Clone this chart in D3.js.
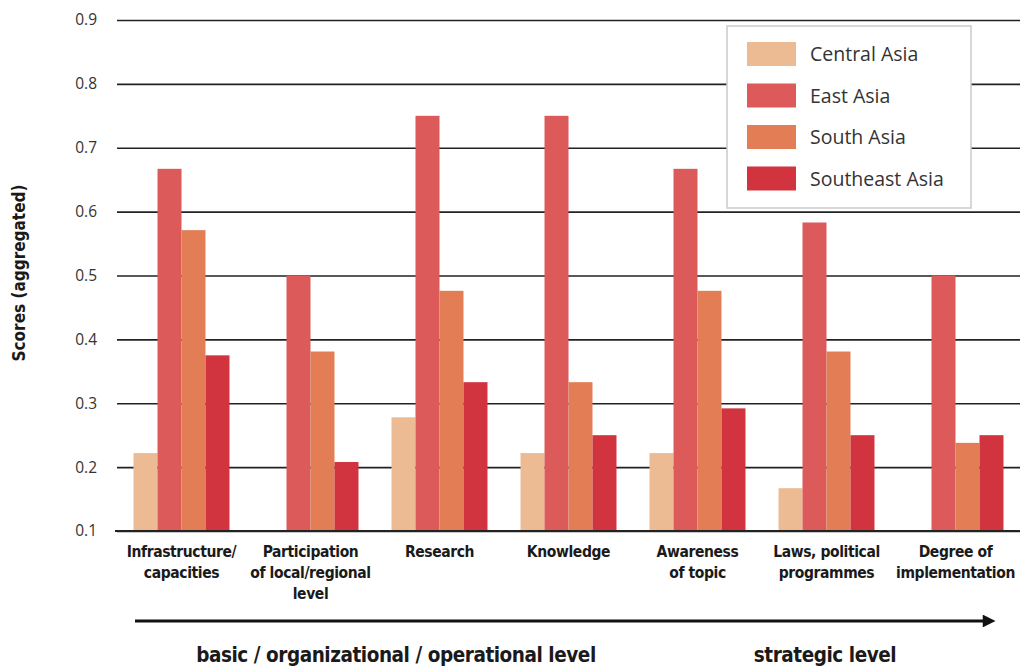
<!DOCTYPE html>
<html>
<head>
<meta charset="utf-8">
<script src="https://cdn.jsdelivr.net/npm/d3@7"></script>
<style>
  html, body { margin: 0; padding: 0; background: #fff; }
  svg { display: block; }
</style>
</head>
<body>
<svg id="chart" width="1025" height="669"></svg>
<script>
// Categories along the x axis (multi-line labels)
const categories = [
  "Infrastructure/|capacities",
  "Participation|of local/regional|level",
  "Research",
  "Knowledge",
  "Awareness|of topic",
  "Laws, political|programmes",
  "Degree of|implementation"
];
const regions = ["Central Asia", "East Asia", "South Asia", "Southeast Asia"];
const centralAsia   = [0.222, null, 0.278, 0.222, 0.222, 0.167, null];
const eastAsia      = [0.667, 0.500, 0.750, 0.750, 0.667, 0.583, 0.500];
const southAsia     = [0.571, 0.381, 0.476, 0.333, 0.476, 0.381, 0.238];
const southeastAsia = [0.375, 0.208, 0.333, 0.250, 0.292, 0.250, 0.250];
const yTicks = [0.1, 0.2, 0.3, 0.4, 0.5, 0.6, 0.7, 0.8, 0.9];
const colors = ["#edbb93", "#dc5a5a", "#e27d55", "#d1343f"];

const seriesValues = [centralAsia, eastAsia, southAsia, southeastAsia];

const svg = d3.select("#chart");
const plotLeft = 117, plotRight = 1020, plotTop = 20, plotBottom = 531;

const x = d3.scaleBand()
  .domain(categories)
  .range([plotLeft, plotRight])
  .paddingInner(0.256)
  .paddingOuter(0.128);

const xInner = d3.scaleBand()
  .domain(regions)
  .range([0, x.bandwidth()]);

const y = d3.scaleLinear()
  .domain([0.1, 0.9])
  .range([plotBottom, plotTop]);

// Horizontal gridlines with tick labels
const yAxis = d3.axisLeft(y)
  .tickValues(yTicks)
  .tickFormat(d3.format(".1f"))
  .tickSize(-(plotRight - plotLeft))
  .tickPadding(20);

const gy = svg.append("g")
  .attr("transform", `translate(${plotLeft},0)`)
  .call(yAxis);
gy.select(".domain").remove();
gy.selectAll(".tick line")
  .attr("stroke", "#222")
  .attr("stroke-width", 1.6);
gy.selectAll(".tick text")
  .attr("fill", "#333")
  .attr("font-family", "'Open Sans', 'DejaVu Sans', sans-serif")
  .attr("font-size", 15.5)
  .attr("font-weight", 400);

// Bars
const groups = svg.append("g")
  .selectAll("g")
  .data(categories)
  .join("g")
  .attr("transform", d => `translate(${x(d)},0)`);

groups.selectAll("rect")
  .data((d, i) => regions.map((r, k) => ({ region: r, value: seriesValues[k][i], k })))
  .join("rect")
  .filter(d => d.value !== null)
  .attr("x", d => xInner(d.region))
  .attr("width", xInner.bandwidth())
  .attr("y", d => y(d.value))
  .attr("height", d => y(0.1) - y(d.value))
  .attr("fill", d => colors[d.k]);

// Baseline drawn over the bars
svg.append("line")
  .attr("x1", plotLeft - 2).attr("x2", plotRight)
  .attr("y1", y(0.1)).attr("y2", y(0.1))
  .attr("stroke", "#222").attr("stroke-width", 1.8);

// Category labels
const labelFont = "'Liberation Sans Narrow', 'DejaVu Sans Condensed', 'Arial Narrow', sans-serif";
const cats = svg.append("g")
  .selectAll("text")
  .data(categories)
  .join("text")
  .attr("text-anchor", "middle")
  .attr("font-family", labelFont)
  .attr("font-weight", "bold")
  .attr("font-size", 15.5)
  .attr("letter-spacing", -0.4)
  .attr("fill", "#1a1a1a");
cats.each(function (d) {
  const t = d3.select(this);
  d.split("|").forEach((line, i) => {
    t.append("tspan")
      .attr("x", x(d) + x.bandwidth() / 2)
      .attr("y", 557 + i * 20.8)
      .text(line);
  });
});

// Y axis title
svg.append("text")
  .attr("transform", "translate(25, 273) rotate(-90)")
  .attr("text-anchor", "middle")
  .attr("font-family", labelFont)
  .attr("font-weight", "bold")
  .attr("font-size", 17)
  .attr("fill", "#1a1a1a")
  .text("Scores (aggregated)");

// Progression arrow beneath the categories
const defs = svg.append("defs");
defs.append("marker")
  .attr("id", "arrowHead")
  .attr("viewBox", "0 0 10 10")
  .attr("refX", 1).attr("refY", 5)
  .attr("markerWidth", 5).attr("markerHeight", 4)
  .attr("markerUnits", "strokeWidth")
  .attr("orient", "auto")
  .append("path")
  .attr("d", "M0,0 L10,5 L0,10 Z")
  .attr("fill", "#111");

svg.append("line")
  .attr("x1", 135).attr("x2", 984)
  .attr("y1", 621).attr("y2", 621)
  .attr("stroke", "#111").attr("stroke-width", 3.2)
  .attr("marker-end", "url(#arrowHead)");

svg.append("text")
  .attr("x", 396).attr("y", 662)
  .attr("text-anchor", "middle")
  .attr("font-family", labelFont)
  .attr("font-weight", "bold")
  .attr("font-size", 20.5)
  .attr("letter-spacing", -0.45)
  .attr("fill", "#1a1a1a")
  .text("basic / organizational / operational level");

svg.append("text")
  .attr("x", 825).attr("y", 662)
  .attr("text-anchor", "middle")
  .attr("font-family", labelFont)
  .attr("font-weight", "bold")
  .attr("font-size", 20.5)
  .attr("letter-spacing", -0.45)
  .attr("fill", "#1a1a1a")
  .text("strategic level");

// Legend
const legend = svg.append("g").attr("transform", "translate(727,26)");
legend.append("rect")
  .attr("x", 0).attr("y", 0)
  .attr("width", 244).attr("height", 182)
  .attr("fill", "#fff")
  .attr("stroke", "#c9cccc").attr("stroke-width", 1.5);
const items = legend.selectAll("g.item")
  .data(regions)
  .join("g")
  .attr("class", "item")
  .attr("transform", (d, i) => `translate(20, ${16 + i * 41.5})`);
items.append("rect")
  .attr("width", 49).attr("height", 24)
  .attr("fill", (d, i) => colors[i]);
items.append("text")
  .attr("x", 63).attr("y", 19)
  .attr("font-family", "'Open Sans', 'DejaVu Sans', sans-serif")
  .attr("font-size", 19.5)
  .attr("font-weight", 400)
  .attr("fill", "#333")
  .text(d => d);
</script>
</body>
</html>
